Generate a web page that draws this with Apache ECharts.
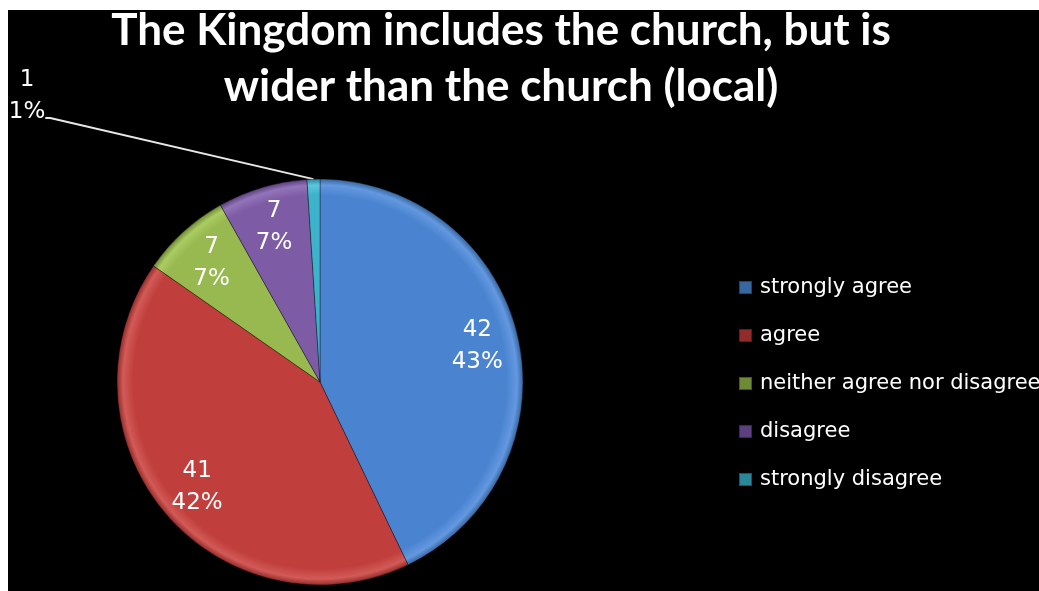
<!DOCTYPE html>
<html>
<head>
<meta charset="utf-8">
<script src="https://cdn.jsdelivr.net/npm/echarts@6/dist/echarts.min.js"></script>
<style>
  html, body { margin: 0; padding: 0; background: #ffffff; }
  #chart { position: absolute; left: 8px; top: 10px; width: 1031px; height: 581px; background: #000000; }
</style>
</head>
<body>
<div id="chart"></div>
<script>
// Survey responses
const categories = ['strongly agree', 'agree', 'neither agree nor disagree', 'disagree', 'strongly disagree'];
const counts = [42, 41, 7, 7, 1];
const titleText = 'The Kingdom includes the church, but is\nwider than the church (local)';

// Slice palette: base, highlight rim, shadow rim
const palette = [
  ['#4a84d0', '#6498e0', '#36679f'],
  ['#c03f3c', '#d25a57', '#922c2a'],
  ['#97b94f', '#abcb63', '#6f8a35'],
  ['#7d5ba5', '#9274b8', '#5b3f7e'],
  ['#3cb2cb', '#5cc6dc', '#2a8699']
];

const TITLE_FONT = 'Lato';
const FONT = 'DejaVu Sans';
const cx = 312, cy = 372, R = 203;
const total = counts.reduce((a, b) => a + b, 0);

function bevel(c) {
  return {
    type: 'radial', x: cx, y: cy, r: R, global: true,
    colorStops: [
      { offset: 0, color: c[0] },
      { offset: 0.92, color: c[0] },
      { offset: 0.97, color: c[1] },
      { offset: 1, color: c[2] }
    ]
  };
}

const isSmall = v => v / total < 0.03;

const chart = echarts.init(document.getElementById('chart'), null, { renderer: 'canvas' });

const labelStyle = {
  color: '#ffffff',
  fontFamily: FONT,
  fontSize: 23,
  lineHeight: 32,
  align: 'center',
  formatter: '{c}\n{d}%'
};

chart.setOption({
  backgroundColor: '#000000',
  animation: false,
  title: {
    text: titleText,
    left: 488,
    top: -12,
    textAlign: 'center',
    textStyle: {
      color: '#ffffff',
      fontFamily: TITLE_FONT,
      fontWeight: 'bold',
      fontSize: 44,
      lineHeight: 56
    }
  },
  legend: {
    orient: 'vertical',
    left: 730,
    top: 267,
    padding: 0,
    itemWidth: 13,
    itemHeight: 13,
    itemGap: 27,
    icon: 'rect',
    data: categories,
    textStyle: { color: '#ffffff', fontFamily: FONT, fontSize: 21, padding: [0, 0, 0, 3] }
  },
  series: [
    {
      type: 'pie',
      center: [cx, cy],
      radius: [0, R],
      startAngle: 90,
      clockwise: true,
      percentPrecision: 0,
      itemStyle: { borderColor: 'rgba(0,0,0,0.35)', borderWidth: 1 },
      data: categories.map((name, i) => ({
        name,
        value: counts[i],
        itemStyle: { color: bevel(palette[i]) },
        label: { show: isSmall(counts[i]) },
        labelLine: { show: isSmall(counts[i]) }
      })),
      label: Object.assign({ position: 'outside', padding: [0, 0, 44, 0] }, labelStyle),
      labelLine: { lineStyle: { color: '#e8e8e8', width: 2 }, length: 10, length2: 5 },
      labelLayout: p => isSmall(counts[p.dataIndex]) ? { x: 19, y: 54, align: 'center', verticalAlign: 'top' } : {}
    },
    {
      // label carrier ring: places in-slice labels toward the rim
      type: 'pie',
      center: [cx, cy],
      radius: [R * 0.56, R],
      startAngle: 90,
      clockwise: true,
      percentPrecision: 0,
      silent: true,
      itemStyle: { color: 'rgba(0,0,0,0)' },
      labelLine: { show: false },
      data: categories.map((name, i) => ({
        name,
        value: counts[i],
        label: { show: !isSmall(counts[i]) }
      })),
      label: Object.assign({ position: 'inside' }, labelStyle)
    }
  ]
});
</script>
</body>
</html>
